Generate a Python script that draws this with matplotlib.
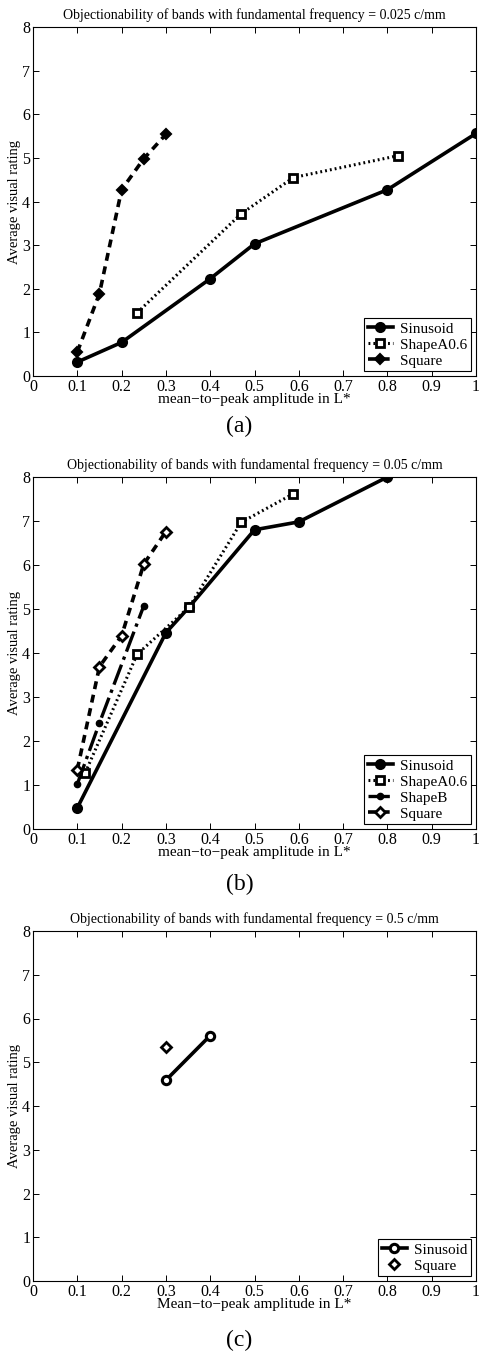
import matplotlib
matplotlib.use("Agg")
import matplotlib.pyplot as plt

plt.rcParams['font.family'] = ['Liberation Serif', 'DejaVu Serif']

# panel (a): 0.025 c/mm
a_sin_x = [0.1, 0.2, 0.4, 0.5, 0.8, 1.0]
a_sin_y = [0.32, 0.77, 2.23, 3.03, 4.27, 5.56]
a_shA_x = [0.235, 0.47, 0.588, 0.824]
a_shA_y = [1.45, 3.72, 4.55, 5.05]
a_sq_x = [0.1, 0.15, 0.2, 0.25, 0.3]
a_sq_y = [0.55, 1.89, 4.27, 4.98, 5.54]

# panel (b): 0.05 c/mm
b_sin_x = [0.1, 0.3, 0.353, 0.5, 0.6, 0.8]
b_sin_y = [0.48, 4.46, 5.05, 6.80, 6.98, 8.0]
b_shA_x = [0.118, 0.235, 0.353, 0.47, 0.588]
b_shA_y = [1.28, 3.97, 5.05, 6.97, 7.62]
b_shB_x = [0.1, 0.15, 0.25]
b_shB_y = [1.02, 2.41, 5.07]
b_sq_x = [0.1, 0.15, 0.2, 0.25, 0.3]
b_sq_y = [1.35, 3.69, 4.39, 6.02, 6.76]

# panel (c): 0.5 c/mm
c_sin_x = [0.3, 0.4]
c_sin_y = [4.59, 5.61]
c_sq_x = [0.3]
c_sq_y = [5.35]

xticks = [0, 0.1, 0.2, 0.3, 0.4, 0.5, 0.6, 0.7, 0.8, 0.9, 1]
xticklabels = ['0', '0.1', '0.2', '0.3', '0.4', '0.5', '0.6', '0.7', '0.8', '0.9', '1']

W, H = 479, 1354
fig = plt.figure(figsize=(W / 100, H / 100), dpi=100)


def make_ax(top, bottom):
    ax = fig.add_axes([33 / W, (H - bottom) / H, 443 / W, (bottom - top) / H])
    ax.set_xlim(0, 1)
    ax.set_ylim(0, 8)
    ax.set_xticks(xticks)
    ax.set_xticklabels(xticklabels)
    ax.set_yticks(range(9))
    ax.tick_params(direction='in', top=True, right=True, labelsize=11.5,
                   length=4, width=0.7, pad=2)
    for s in ax.spines.values():
        s.set_linewidth(0.8)
    ax.set_ylabel('Average visual rating', fontsize=10.5, labelpad=1)
    return ax


sin_kw = dict(color='k', ls='-', lw=2.6, marker='o', ms=6.5, mfc='k', mec='k', mew=1.5)
shA_kw = dict(color='k', ls=(0, (0.6, 1.0)), lw=2.2, marker='s', ms=5.5, mfc='white', mec='k', mew=2)
shB_kw = dict(color='k', ls='-.', lw=2.4, marker='o', ms=4.5, mfc='k', mec='k')
sq_kw = dict(color='k', ls=(0, (2.2, 1.6)), lw=2.6, marker='D', ms=5.5, mfc='k', mec='k', mew=1.5)

leg_kw = dict(loc='lower right', fancybox=False, edgecolor='k', framealpha=1,
              fontsize=11, handlelength=1.6, borderpad=0.25, labelspacing=0.15,
              handletextpad=0.5, borderaxespad=0.3)

xlab = 'mean\u2212to\u2212peak amplitude in L*'

# (a)
ax = make_ax(27, 376)
ax.plot(a_sin_x, a_sin_y, label='Sinusoid', **sin_kw)
ax.plot(a_shA_x, a_shA_y, label='ShapeA0.6', **shA_kw)
ax.plot(a_sq_x, a_sq_y, label='Square', **sq_kw)
ax.set_title('Objectionability of bands with fundamental frequency = 0.025 c/mm',
             fontsize=10, pad=6)
ax.set_xlabel(xlab, fontsize=11, labelpad=-1)
ax.legend(**leg_kw).get_frame().set_linewidth(0.8)
fig.text(0.5, 1 - 426 / H, '(a)', ha='center', va='center', fontsize=17)

# (b)
ax = make_ax(477, 829)
ax.plot(b_sin_x, b_sin_y, label='Sinusoid', **sin_kw)
ax.plot(b_shA_x, b_shA_y, label='ShapeA0.6', **shA_kw)
ax.plot(b_shB_x, b_shB_y, label='ShapeB', **shB_kw)
ax.plot(b_sq_x, b_sq_y, label='Square', **dict(sq_kw, mfc='white', mew=2))
ax.set_title('Objectionability of bands with fundamental frequency = 0.05 c/mm',
             fontsize=10, pad=6)
ax.set_xlabel(xlab, fontsize=11, labelpad=-1)
ax.legend(**leg_kw).get_frame().set_linewidth(0.8)
fig.text(0.5, 1 - 884 / H, '(b)', ha='center', va='center', fontsize=17)

# (c)
ax = make_ax(931, 1281)
ax.plot(c_sin_x, c_sin_y, label='Sinusoid', **dict(sin_kw, mfc='white', mew=2.2, ms=6))
ax.plot(c_sq_x, c_sq_y, label='Square', ls='none', marker='D', ms=5, mfc='white',
        mec='k', mew=2)
ax.set_title('Objectionability of bands with fundamental frequency = 0.5 c/mm',
             fontsize=10, pad=6)
ax.set_xlabel('Mean\u2212to\u2212peak amplitude in L*', fontsize=11, labelpad=-1)
ax.legend(**leg_kw).get_frame().set_linewidth(0.8)
fig.text(0.5, 1 - 1340 / H, '(c)', ha='center', va='center', fontsize=17)

fig.savefig('out.png', dpi=100)
